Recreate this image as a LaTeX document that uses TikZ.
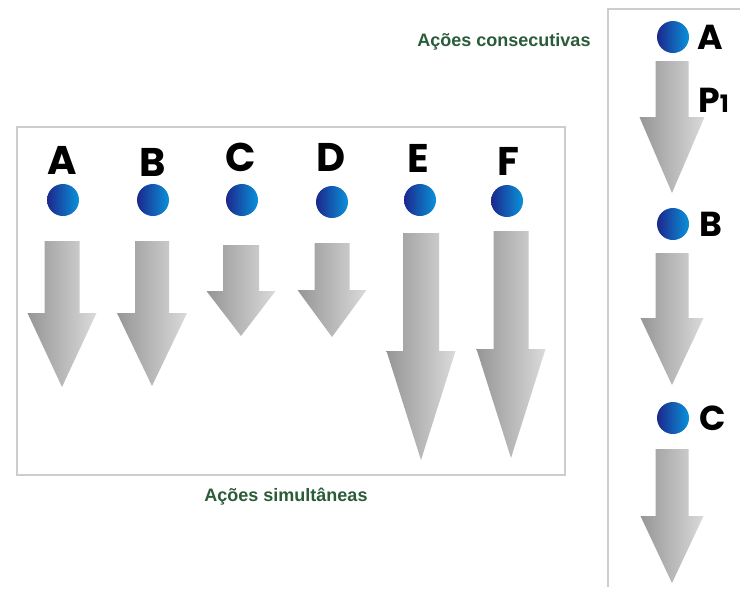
\documentclass[tikz,border=0pt]{standalone}
\usepackage{fontspec}
\setmainfont{Liberation Sans}
\newfontfamily\geofont{Poppins}[UprightFont=* Bold]
\definecolor{framegray}{RGB}{205,205,205}
\definecolor{capgreen}{RGB}{42,92,58}
\definecolor{ballleft}{RGB}{28,40,140}
\definecolor{ballright}{RGB}{10,146,218}
\definecolor{arrleft}{RGB}{150,150,150}
\definecolor{arrright}{RGB}{218,218,218}
\newcommand\grarr[6]{%
  \shade[left color=arrleft,right color=arrright]
    ({#1-#5},{#2}) -- ({#1+#5},{#2}) -- ({#1+#5},{#3}) -- ({#1+#6},{#3})
    -- ({#1},{#4}) -- ({#1-#6},{#3}) -- ({#1-#5},{#3}) -- cycle;}
\begin{document}
\begin{tikzpicture}[x=0.75pt,y=-0.75pt,
  ball/.style={circle,inner sep=0pt,minimum size=24pt,left color=ballleft,right color=ballright,draw=none},
  letter/.style={inner sep=0pt,font=\geofont\fontsize{30}{30}\selectfont,text=black},
  rletter/.style={inner sep=0pt,font=\geofont\fontsize{26}{26}\selectfont,text=black},
  caption/.style={inner sep=0pt,font=\bfseries\fontsize{13.5}{13.5}\selectfont,text=capgreen},
  frame/.style={draw=framegray,line width=0.8pt}]
\useasboundingbox (0,0) rectangle (740,590);
\fill[white] (0,0) rectangle (740,590);
% frames
\draw[frame] (17,127) rectangle (565,475);
\draw[frame] (608,587) -- (608,9) -- (745,9);
% captions
\node[caption] (cons) at (504,42) {Ações consecutivas};
\node[caption] (simu) at (286,497) {Ações simultâneas};
% left: simultaneous actions
\node[letter] (lA) at (62,160) {A};
\node[letter] (lB) at (153,162) {B};
\node[letter] (lC) at (241,157) {C};
\node[letter] (lD) at (331,157) {D};
\node[letter] (lE) at (418,158) {E};
\node[letter] (lF) at (508,161) {F};
\node[ball] (bA) at (63,200) {};
\node[ball] (bB) at (153,200) {};
\node[ball] (bC) at (242,200) {};
\node[ball] (bD) at (332,202) {};
\node[ball] (bE) at (420,200) {};
\node[ball] (bF) at (507,201) {};
\grarr{62}{241}{313}{387}{17.5}{34.5}
\grarr{152}{241}{313}{386}{17}{35}
\grarr{241}{245}{291}{336}{18}{34.5}
\grarr{332}{243}{290}{337}{17.5}{34.5}
\grarr{421}{233}{351}{460}{18}{34.5}
\grarr{511}{231}{349}{458}{17.5}{34.5}
% right: consecutive actions
\node[ball] (rA) at (673,37) {};
\node[ball] (rB) at (673,224) {};
\node[ball] (rC) at (673,418) {};
\node[rletter,anchor=west] (tA) at (697,37) {A};
\node[rletter,anchor=west] (tB) at (699,224) {B};
\node[rletter,anchor=west] (tC) at (699,418) {C};
\node[rletter,anchor=west] (tP) at (698,100) {P\fontsize{18}{18}\selectfont 1};
\grarr{672}{61}{117}{193}{16.5}{32.5}
\grarr{672}{253}{318}{385}{16.5}{31.5}
\grarr{672}{449}{516}{583}{16.5}{31.5}
\end{tikzpicture}
\end{document}
